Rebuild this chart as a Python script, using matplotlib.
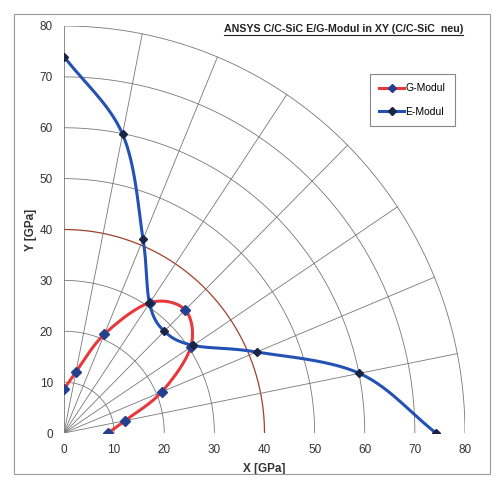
import numpy as np
import matplotlib.pyplot as plt
from matplotlib.patches import Rectangle
from matplotlib.lines import Line2D

plt.rcParams['font.family'] = ['Liberation Sans', 'DejaVu Sans']

# winkel in grad (11.25 grad schritte), modul in GPa
winkel = [0, 11.25, 22.5, 33.75, 45, 56.25, 67.5, 78.75, 90]
g_modul = [8.8, 12.4, 21.1, 30.4, 34.2, 30.8, 21.0, 12.2, 8.6]
e_modul = [74.2, 60.1, 41.6, 31.0, 28.3, 30.7, 41.2, 59.9, 74.0]
ticks = [0, 10, 20, 30, 40, 50, 60, 70, 80]
kreise = [10, 20, 30, 40, 50, 60, 70, 80]


def glatt(x, y, n=30):
    # catmull-rom durch die punkte (wie excel "geglaettet")
    p = np.column_stack([x, y])
    p = np.vstack([2*p[0]-p[1], p, 2*p[-1]-p[-2]])
    out = []
    t = np.linspace(0, 1, n)[:, None]
    for i in range(1, len(p)-2):
        p0, p1, p2, p3 = p[i-1], p[i], p[i+1], p[i+2]
        c = 0.5*((2*p1) + (-p0+p2)*t + (2*p0-5*p1+4*p2-p3)*t**2 + (-p0+3*p1-3*p2+p3)*t**3)
        out.append(c)
    out = np.vstack(out)
    return out[:, 0], out[:, 1]


fig = plt.figure(figsize=(4.96, 4.8), dpi=100)
ax = fig.add_axes([64/496, 47/480, 401/496, 407/480])

# rahmen ums ganze
fig.patches.append(Rectangle((14/496, 6/480), 476/496, 460/480, transform=fig.transFigure,
                             fill=False, ec='#999999', lw=0.8))

phi = np.linspace(0, np.pi/2, 200)
for r in kreise:
    col = '#a0402a' if r == 40 else '#777777'
    ax.plot(r*np.cos(phi), r*np.sin(phi), color=col, lw=0.9 if r == 40 else 0.6, zorder=1)
for w in winkel:
    a = np.radians(w)
    ax.plot([0, 80*np.cos(a)], [0, 80*np.sin(a)], color='#777777', lw=0.6, zorder=1)

a = np.radians(winkel)
gx, gy = np.array(g_modul)*np.cos(a), np.array(g_modul)*np.sin(a)
ex, ey = np.array(e_modul)*np.cos(a), np.array(e_modul)*np.sin(a)

sx, sy = glatt(gx, gy)
ax.plot(sx, sy, color='#e8383c', lw=2.2, zorder=2)
ax.plot(gx, gy, 'D', color='#24408e', ms=5, zorder=4)
sx, sy = glatt(ex, ey)
ax.plot(sx, sy, color='#2452b4', lw=2.2, zorder=3)
ax.plot(ex, ey, 'D', color='#1a2444', ms=4, zorder=5)

ax.set_xlim(0, 80)
ax.set_ylim(0, 80)
ax.set_xticks(ticks)
ax.set_yticks(ticks)
for s in ax.spines.values():
    s.set_visible(False)
ax.tick_params(length=0, labelsize=8.5, labelcolor='#333333', pad=8)
ax.patch.set_alpha(0)

ax.set_xlabel('X [GPa]', fontsize=8.5, fontweight='bold', color='#333333', labelpad=5)
ax.set_ylabel('Y [GPa]', fontsize=8.5, fontweight='bold', color='#333333', labelpad=2)

hg = [Line2D([], [], color='#e8383c', lw=2.2, marker='D', mfc='#24408e', mec='#24408e', ms=4),
      Line2D([], [], color='#2452b4', lw=2.2, marker='D', mfc='#1a2444', mec='#1a2444', ms=4)]
leg = ax.legend(hg, ['G-Modul', 'E-Modul'], loc='upper left', bbox_to_anchor=(0.75, 0.895),
                fontsize=7.5, fancybox=False, edgecolor='#888888', framealpha=1,
                handlelength=2.4, handletextpad=0.1, labelspacing=1.3, borderpad=0.9)
leg.get_frame().set_linewidth(0.8)

tt = fig.text(463/496, 1-29/480, 'ANSYS C/C-SiC E/G-Modul in XY (C/C-SiC  neu)', ha='right', va='center',
              fontsize=7.7, fontweight='bold', color='#222222')
fig.canvas.draw()
bb = tt.get_window_extent().transformed(fig.transFigure.inverted())
fig.add_artist(Line2D([bb.x0, bb.x1], [bb.y0 - 0.002, bb.y0 - 0.002], transform=fig.transFigure,
                      color='#222222', lw=0.8))

plt.savefig('out.png', dpi=100)
